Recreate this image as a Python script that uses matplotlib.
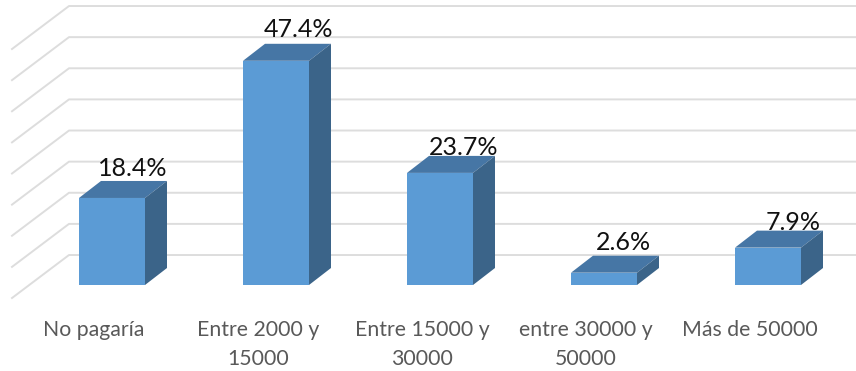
import matplotlib
matplotlib.use('Agg')
import matplotlib.pyplot as plt
from matplotlib.patches import Polygon

categories = ['No pagaría', 'Entre 2000 y\n15000', 'Entre 15000 y\n30000', 'entre 30000 y\n50000', 'Más de 50000']
values = [18.4, 47.4, 23.7, 2.6, 7.9]
value_labels = ['18.4%', '47.4%', '23.7%', '2.6%', '7.9%']

# axis scale: one category is 164 px wide, one percent is 4.73 px tall
px_x = 164
px_y = 4.73
depth_x = 22 / px_x
depth_y = 17 / px_y
bar_width = 66 / px_x

# hand tuned label offsets (x in categories, y in percent)
label_offsets = [[0.125, 1.1], [0.14, 1.5], [0.146, 0.2], [0.116, 1.1], [0.152, 0.2]]

# back wall gridlines and the side wall running towards the viewer
grid_levels = [6.34 + 6.58 * i for i in range(9)]
wall_x = -43 / px_x
side_x = -100 / px_x
side_y = -43 / px_y

fig = plt.figure(figsize=(8.56, 3.71), dpi=100)
ax = fig.add_axes([0, 0, 1, 1])
ax.set_xlim(-112 / px_x, (856 - 112) / px_x)
ax.set_ylim((285 - 371) / px_y, 285 / px_y)
ax.axis('off')

for level in grid_levels:
    ax.plot([side_x, wall_x, 5], [level + side_y, level, level], color='#DDDDDD', linewidth=1.4, zorder=1)

for i, value in enumerate(values):
    left = i - bar_width / 2
    right = i + bar_width / 2
    ax.add_patch(Polygon([(left, 0), (right, 0), (right, value), (left, value)], color='#5B9BD5', linewidth=0, zorder=3))
    ax.add_patch(Polygon([(left, value), (right, value), (right + depth_x, value + depth_y), (left + depth_x, value + depth_y)],
                         color='#4676A5', linewidth=0, zorder=3))
    ax.add_patch(Polygon([(right, 0), (right + depth_x, depth_y), (right + depth_x, value + depth_y), (right, value)],
                         color='#3B6489', linewidth=0, zorder=3))
    ax.text(i + label_offsets[i][0], value + depth_y + label_offsets[i][1], value_labels[i], ha='center', va='baseline',
            fontsize=18, family='Lato', color='#111111', zorder=4)
    ax.text(i - 0.11, -7.4, categories[i], ha='center', va='top', fontsize=15.3, family='Lato', color='#595959',
            linespacing=1.55, zorder=4)

plt.savefig('out.png', dpi=100)
